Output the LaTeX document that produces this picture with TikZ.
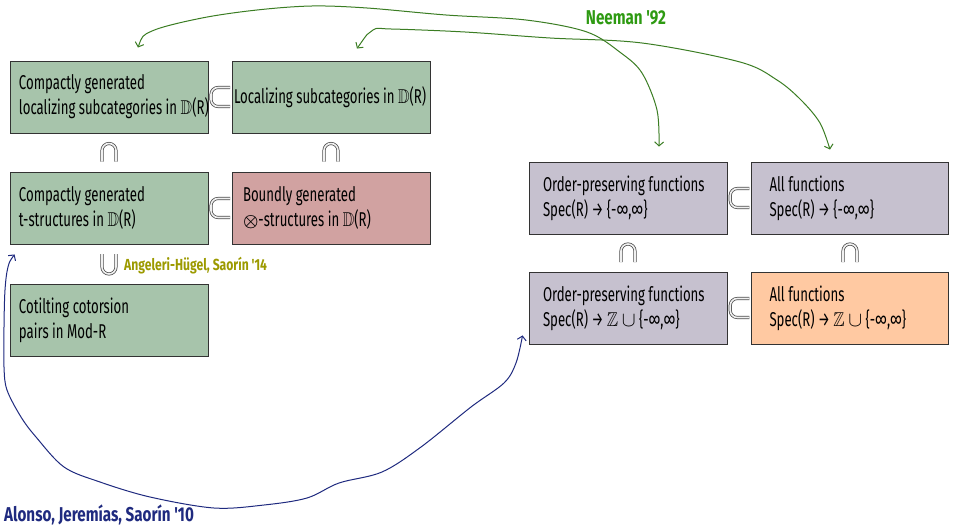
\documentclass[tikz,border=0pt]{standalone}
\usepackage{fontspec}
\setmainfont{Fira Sans}[FakeStretch=0.66]
\newfontfamily\citefont{Fira Sans}[FakeStretch=0.76]
\usepackage{amsmath,amssymb}
\usetikzlibrary{calc,arrows.meta}

\definecolor{cgreen}{HTML}{A7C4AB}
\definecolor{cpink}{HTML}{D1A2A1}
\definecolor{clav}{HTML}{C6C1CF}
\definecolor{corange}{HTML}{FFC9A2}
\definecolor{neemanline}{HTML}{3B7D23}
\definecolor{neemantext}{HTML}{2E9A12}
\definecolor{angeleri}{HTML}{9C9A00}
\definecolor{alonso}{HTML}{1F2A7F}

\newcommand{\dcat}{\scalebox{0.8}[1]{$\mathbb{D}$}}
\newcommand{\zset}{\scalebox{0.85}[1]{$\mathbb{Z}$}}

\tikzset{
    subsetsym/.pic={\draw[incl] (10,-9.5) -- (-9,-9.5) -- (-9,9.5) -- (10,9.5);},
    capsym/.pic={\draw[incl] (-7,9) -- (-7,-9) -- (7,-9) -- (7,9);},
    cupsym/.pic={\draw[incl] (-7,-10) -- (-7,10) -- (7,10) -- (7,-10);}
}

\begin{document}
\begin{tikzpicture}[
        x=1pt, y=-1pt,
        box/.style={draw=black!80, line width=0.9pt, minimum height=72pt,
            text width=180pt, inner xsep=9pt, align=flush left,
            font=\fontsize{20}{25}\selectfont},
        greenbox/.style={box, fill=cgreen},
        pinkbox/.style={box, fill=cpink},
        lavbox/.style={box, fill=clav},
        orangebox/.style={box, fill=corange},
        incl/.style={draw=black!70, line width=0.75pt, double=black!6,
            double distance=1.6pt, rounded corners=7pt},
        cite/.style={font=\citefont\fontsize{20}{24}\selectfont\bfseries, inner sep=0pt},
        neeman/.style={{Straight Barb[length=4pt,width=9pt]}-{Straight Barb[length=4pt,width=9pt]}, line width=1pt, neemanline},
        alonsoarc/.style={{Straight Barb[length=4pt,width=9pt]}-{Straight Barb[length=4pt,width=9pt]}, line width=1pt, alonso}
    ]
        \useasboundingbox (0,0) rectangle (954,527);

        % Derived category side
        \node[greenbox] (cgloc) at (109,97) {Compactly generated\\\mbox{localizing subcategories in \dcat(R)}};
        \node[greenbox, inner xsep=2pt, text width=194pt] (loc) at (331,97) {\mbox{Localizing subcategories in \dcat(R)}};
        \node[greenbox] (cgt) at (109,208) {Compactly generated\\t-structures in \dcat(R)};
        \node[pinkbox, inner xsep=11pt, text width=176pt] (bgt) at (331,208) {Boundly generated\\{\fontsize{17}{17}\selectfont$\boldsymbol{\otimes}$}-structures in \dcat(R)};
        \node[greenbox] (cot) at (109,320) {Cotilting cotorsion\\pairs in Mod-R};

        % Function side
        \node[lavbox, inner xsep=14pt, text width=170pt] (opf) at (628,198) {Order-preserving functions\\Spec(R) → \{-∞,∞\}};
        \node[lavbox, inner xsep=18pt, text width=161pt] (allf) at (850,198) {All functions\\Spec(R) → \{-∞,∞\}};
        \node[lavbox, inner xsep=14pt, text width=170pt] (opz) at (628,308) {Order-preserving functions\\Spec(R) → \zset{} $\cup$ \{-∞,∞\}};
        \node[orangebox, inner xsep=18pt, text width=161pt] (allz) at (850,308) {All functions\\Spec(R) → \zset{} $\cup$ \{-∞,∞\}};

        % Inclusions
        \pic at ($(cgloc.east)!0.5!(loc.west)$) {subsetsym};
        \pic at ($(cgt.east)!0.5!(bgt.west)$) {subsetsym};
        \pic at ($(cgloc.south)!0.5!(cgt.north)$) {capsym};
        \pic at ($(loc.south)!0.5!(bgt.north)$) {capsym};
        \pic at ($(cgt.south)!0.5!(cot.north)$) {cupsym};
        \pic at ($(opf.east)!0.5!(allf.west)$) {subsetsym};
        \pic at ($(opz.east)!0.5!(allz.west)$) {subsetsym};
        \pic at ($(opf.south)!0.5!(opz.north)$) {capsym};
        \pic at ($(allf.south)!0.5!(allz.north)$) {capsym};

        % References
        \node[cite, text=neemantext] (neemanlbl) at (626,18) {Neeman '92};
        \node[cite, text=angeleri, anchor=west, font=\citefont\fontsize{16}{20}\selectfont\bfseries] (angelerilbl) at (124,266) {Angeleri-Hügel, Saorín '14};
        \node[cite, text=alonso, anchor=west] (alonsolbl) at (4,515) {Alonso, Jeremías, Saorín '10};

        % Correspondences
        \draw[neeman] plot[smooth, tension=0.55] coordinates {([xshift=29pt,yshift=13pt]cgloc.north) (152,31) (202,18) (257,10) (312,6) (367,8) (446,15) (526,20) (587,32) (621,53) (642,73) (657,110) ([xshift=31pt,yshift=15pt]opf.north)};
        \draw[neeman] plot[smooth, tension=0.55] coordinates {([xshift=26pt,yshift=12pt]loc.north) (373,30) (391,29) (465,32) (550,38) (642,43) (740,62) (777,80) (801,100) (820,123) ([xshift=-20pt,yshift=12pt]allf.north)};
        \draw[alonsoarc] plot[smooth, tension=0.55] coordinates {([xshift=5pt,yshift=-10pt]cgt.south west) (8,267) (5,290) (4,327) (4,367) (7,390) (21,417) (36,437) (64,467) (100,482) (150,497) (214,508) (264,505) (307,498) (339,483) (382,472) (421,447) (471,407) (504,383) (516,363) ([xshift=-6pt,yshift=9pt]opz.south west)};
\end{tikzpicture}
\end{document}
